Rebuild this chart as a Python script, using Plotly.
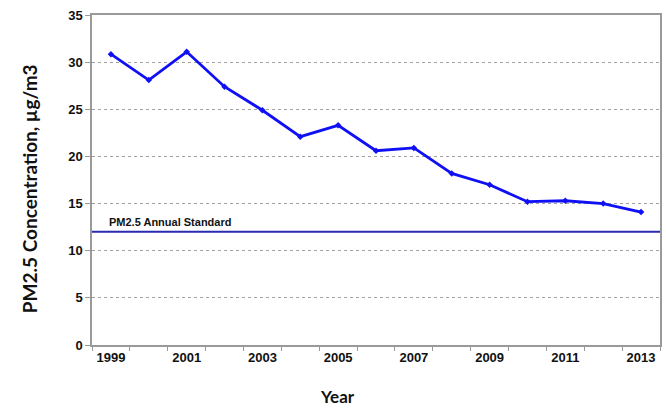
import plotly.graph_objects as go

years = list(range(1999, 2014))
pm25 = [30.85, 28.1, 31.1, 27.4, 24.9, 22.1, 23.3, 20.6, 20.9, 18.2, 17.0, 15.2, 15.3, 15.0, 14.1]
standard_value = 12
standard_label = "PM2.5 Annual Standard"
x_label_years = years[::2]
y_ticks = [0, 5, 10, 15, 20, 25, 30, 35]

x_lo = years[0] - 0.5
x_hi = years[-1] + 0.5
boundaries = [y - 0.5 for y in years] + [x_hi]

W, H = 666, 408
ml, mr, mt, mb = 92, 4, 15, 63
pw, ph = W - ml - mr, H - mt - mb


def px_to_paper(px, py):
    return (px - ml) / pw, (H - mb - py) / ph


fig = go.Figure()
fig.add_trace(go.Scatter(
    x=[x_lo, x_hi], y=[standard_value, standard_value], mode="lines",
    line=dict(color="#2b2bb0", width=2), hoverinfo="skip", showlegend=False,
))
fig.add_trace(go.Scatter(
    x=years, y=pm25, mode="lines+markers",
    line=dict(color="#1010f5", width=2.8),
    marker=dict(symbol="diamond", size=5, color="#1010f5"),
    showlegend=False,
))

fig.add_annotation(
    x=years[0] - 0.1, y=standard_value, xref="x", yref="y",
    text=standard_label, showarrow=False,
    xanchor="left", yanchor="bottom", yshift=2,
    font=dict(family="Liberation Sans", size=11, color="#111111", weight="bold"),
)
tx, ty = px_to_paper(29, 189)
fig.add_annotation(
    x=tx, y=ty, xref="paper", yref="paper", xanchor="center", yanchor="middle",
    text="PM2.5 Concentration, µg/m3", showarrow=False, textangle=-90,
    font=dict(family="Lato", size=19, color="#111111", weight="bold"),
)
tx, ty = px_to_paper(338, 396)
fig.add_annotation(
    x=tx, y=ty, xref="paper", yref="paper", xanchor="center", yanchor="middle",
    text="Year", showarrow=False,
    font=dict(family="Lato", size=17, color="#111111", weight="bold"),
)

fig.update_layout(
    width=W, height=H,
    margin=dict(l=ml, r=mr, t=mt, b=mb),
    paper_bgcolor="white", plot_bgcolor="white",
    font=dict(family="Liberation Sans", color="#111111"),
    xaxis=dict(
        range=[x_lo, x_hi], tickvals=x_label_years, ticktext=[str(y) for y in x_label_years],
        ticks="", showgrid=False, zeroline=False,
        showline=True, linecolor="#9a9a9a", linewidth=1.5, mirror=True,
        tickfont=dict(family="Liberation Sans", size=13, weight="bold", color="#111111"),
        minor=dict(tickvals=boundaries, ticks="outside", ticklen=4, tickcolor="#9a9a9a", showgrid=False),
    ),
    yaxis=dict(
        range=[0, 35], tickvals=y_ticks, ticks="outside", ticklen=5, tickcolor="#9a9a9a",
        showgrid=True, gridcolor="#a0a0a0", griddash="dot", gridwidth=1,
        zeroline=False, showline=True, linecolor="#9a9a9a", linewidth=1.5, mirror=True,
        tickfont=dict(family="Liberation Sans", size=13, weight="bold", color="#111111"),
    ),
)

fig.write_html("out.html", config={"displayModeBar": False},
               post_script="document.body.style.margin='0px';")
